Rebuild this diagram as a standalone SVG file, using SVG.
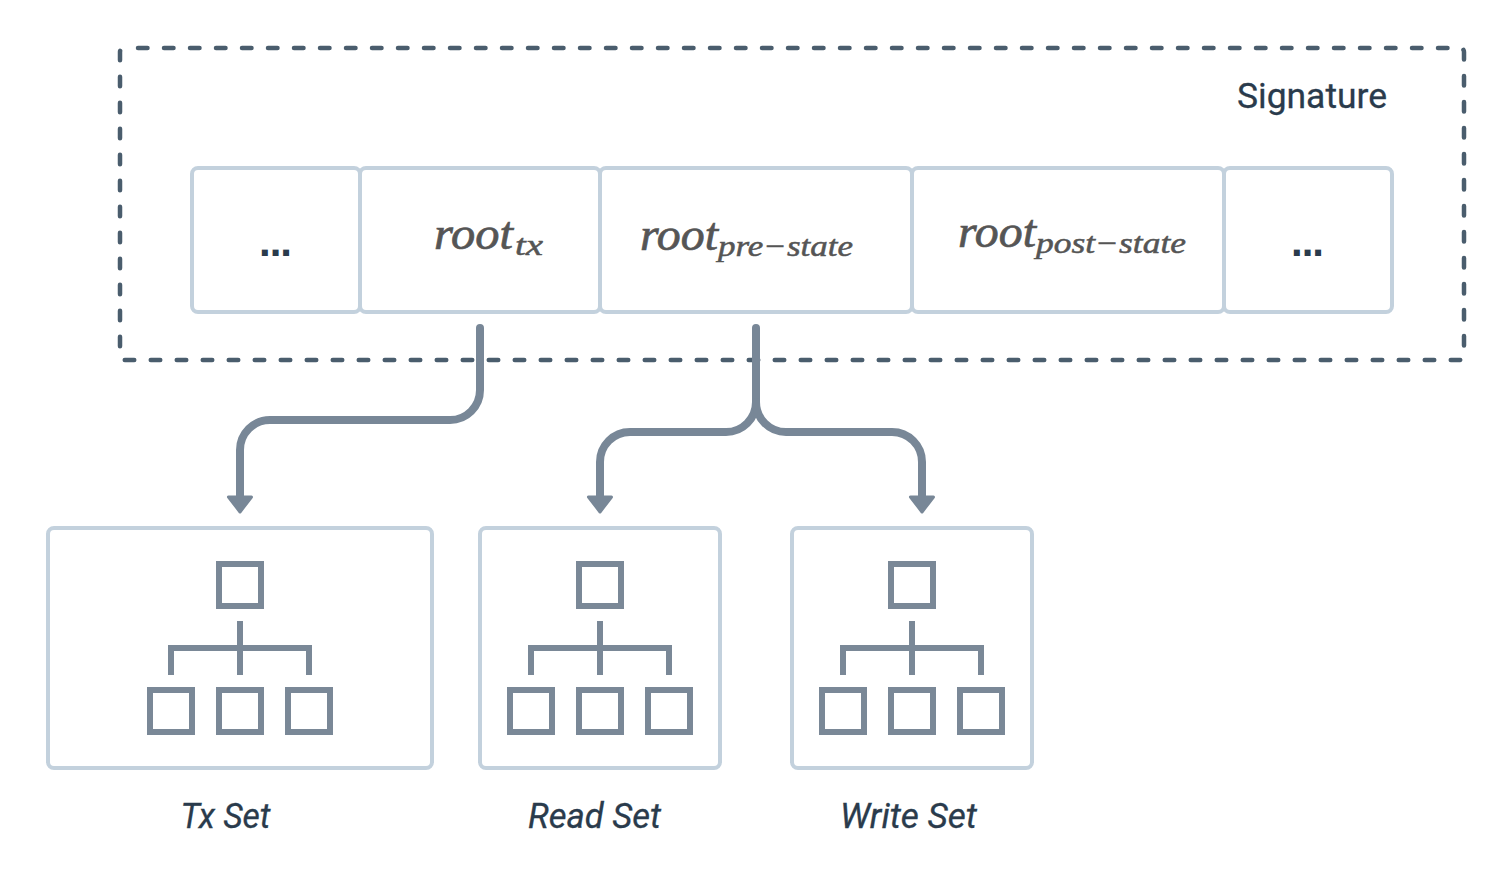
<svg xmlns="http://www.w3.org/2000/svg" width="1512" height="888" viewBox="0 0 1512 888">
<style>
.box{fill:#fff;stroke:#c3d1dd;stroke-width:4}
.dash{fill:none;stroke:#4a5d6d;stroke-width:4.500;stroke-dasharray:9.500 16.500;stroke-dashoffset:12;stroke-linecap:round}
.conn{fill:none;stroke:#788797;stroke-width:8;stroke-linecap:round;stroke-linejoin:round}
.head{fill:#788797;stroke:#788797;stroke-width:3;stroke-linejoin:round}
.ic{fill:none;stroke:#7a8897;stroke-width:6}
.lbl{font-family:"Roboto","Liberation Sans",sans-serif;font-size:35px;fill:#2a3b4c;stroke:#2a3b4c;stroke-width:.3px}
.it{font-style:italic}
.dots{font-family:"Liberation Sans",sans-serif;font-weight:700;font-size:42px;fill:#2a3b4c}
.math{font-family:"Liberation Serif",serif;font-style:italic;fill:#555;stroke:#555}
.m1{font-size:46px;stroke-width:.7px}
.m2{font-size:30px;stroke-width:.5px}
</style>
<defs>
<g id="tree">
<rect class="ic" x="-21" y="36" width="42" height="42"/>
<path class="ic" d="M0 93V147M-69 147V120H69V147"/>
<rect class="ic" x="-90" y="162" width="42" height="42"/>
<rect class="ic" x="-21" y="162" width="42" height="42"/>
<rect class="ic" x="48" y="162" width="42" height="42"/>
</g>
</defs>
<rect width="1512" height="888" fill="#fff"/>
<g id="signature">
<rect class="dash" x="120" y="48" width="1344" height="312" rx="4"/>
<text class="lbl" x="1237" y="108" textLength="150" lengthAdjust="spacingAndGlyphs">Signature</text>
</g>
<g id="cell-1">
<rect class="box" x="192" y="168" width="168" height="144" rx="6"/>
<text class="dots" x="259" y="256" textLength="33" lengthAdjust="spacing">...</text>
</g>
<g id="cell-root-tx">
<rect class="box" x="360" y="168" width="240" height="144" rx="6"/>
<text class="math m1" x="434" y="249" textLength="79" lengthAdjust="spacingAndGlyphs">root</text>
<text class="math m2" x="515" y="255" textLength="28" lengthAdjust="spacingAndGlyphs">tx</text>
</g>
<g id="cell-root-pre">
<rect class="box" x="600" y="168" width="312" height="144" rx="6"/>
<text class="math m1" x="640" y="250" textLength="78" lengthAdjust="spacingAndGlyphs">root</text>
<text class="math m2" x="718" y="256" textLength="135" lengthAdjust="spacingAndGlyphs">pre−state</text>
</g>
<g id="cell-root-post">
<rect class="box" x="912" y="168" width="312" height="144" rx="6"/>
<text class="math m1" x="958" y="247" textLength="78" lengthAdjust="spacingAndGlyphs">root</text>
<text class="math m2" x="1036" y="253" textLength="150" lengthAdjust="spacingAndGlyphs">post−state</text>
</g>
<g id="cell-5">
<rect class="box" x="1224" y="168" width="168" height="144" rx="6"/>
<text class="dots" x="1291" y="256" textLength="33" lengthAdjust="spacing">...</text>
</g>
<g id="connectors">
<path class="conn" d="M480 328V390A30 30 0 0 1 450 420H270A30 30 0 0 0 240 450V498"/>
<path class="conn" d="M756 328V402A30 30 0 0 1 726 432H630A30 30 0 0 0 600 462V498"/>
<path class="conn" d="M756 402A30 30 0 0 0 786 432H892A30 30 0 0 1 922 462V498"/>
<path class="head" d="M228.500 497H251.500L240 512Z"/>
<path class="head" d="M588.500 497H611.500L600 512Z"/>
<path class="head" d="M910.500 497H933.500L922 512Z"/>
</g>
<g id="tx-set">
<rect class="box" x="48" y="528" width="384" height="240" rx="6"/>
<use href="#tree" x="240" y="528"/>
<text class="lbl it" x="180.500" y="828" textLength="90" lengthAdjust="spacingAndGlyphs">Tx Set</text>
</g>
<g id="read-set">
<rect class="box" x="480" y="528" width="240" height="240" rx="6"/>
<use href="#tree" x="600" y="528"/>
<text class="lbl it" x="528" y="828" textLength="133" lengthAdjust="spacingAndGlyphs">Read Set</text>
</g>
<g id="write-set">
<rect class="box" x="792" y="528" width="240" height="240" rx="6"/>
<use href="#tree" x="912" y="528"/>
<text class="lbl it" x="840" y="828" textLength="137" lengthAdjust="spacingAndGlyphs">Write Set</text>
</g>
</svg>
